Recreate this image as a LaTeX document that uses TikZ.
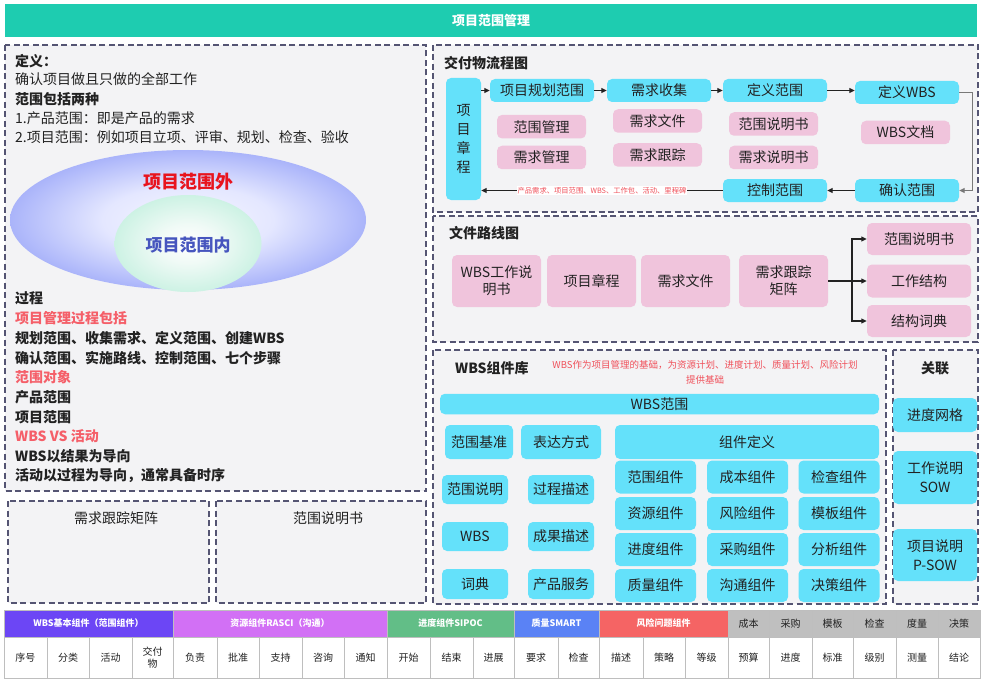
\documentclass[tikz,border=0pt]{standalone}
\usepackage{fontspec}
\setmainfont{Noto Sans CJK SC}
\usetikzlibrary{arrows.meta,calc,shapes.geometric}
\definecolor{titlebg}{RGB}{30,204,176}
\definecolor{cyanc}{RGB}{100,225,250}
\definecolor{pinkc}{RGB}{240,196,220}
\definecolor{panelbg}{RGB}{243,243,245}
\definecolor{panelln}{RGB}{85,85,115}
\definecolor{txt}{RGB}{34,34,34}
\definecolor{outred}{RGB}{232,20,30}
\definecolor{inblue}{RGB}{70,85,190}
\definecolor{salmon}{RGB}{245,95,105}
\definecolor{notered}{RGB}{240,80,90}
\definecolor{ellout}{RGB}{170,180,250}
\definecolor{ellmid}{RGB}{228,231,255}
\definecolor{ellin}{RGB}{246,246,255}
\definecolor{mint}{RGB}{205,242,228}
\definecolor{mintin}{RGB}{240,250,246}
\definecolor{hpurple}{RGB}{108,70,245}
\definecolor{hviolet}{RGB}{210,112,245}
\definecolor{hgreen}{RGB}{98,190,135}
\definecolor{hblue}{RGB}{90,130,245}
\definecolor{hred}{RGB}{245,100,100}
\definecolor{hgray}{RGB}{191,191,191}
\definecolor{cellln}{RGB}{190,190,190}
\definecolor{elbowc}{RGB}{120,120,120}
\pgfdeclareradialshading{outershade}{\pgfpoint{0bp}{0bp}}{color(0bp)=(ellin); color(12bp)=(ellmid); color(25bp)=(ellout); color(50bp)=(ellout)}
\pgfdeclareradialshading{innershade}{\pgfpoint{0bp}{0bp}}{color(0bp)=(white); color(10bp)=(mintin); color(25bp)=(mint); color(50bp)=(mint)}
\begin{document}
\begin{tikzpicture}[x=1pt,y=-1pt,
  panel/.style={draw=panelln, fill=panelbg, line width=1.1pt, dash pattern=on 6pt off 3.5pt},
  box/.style={rounded corners=5pt, inner sep=0pt, align=center, text=txt, font=\fontsize{14}{17}\selectfont},
  cbox/.style={box, fill=cyanc},
  pbox/.style={box, fill=pinkc},
  lt/.style={anchor=west, inner sep=0pt, text=txt, font=\fontsize{14}{17}\selectfont},
  ltb/.style={lt, font=\bfseries\fontsize{14}{17}\selectfont},
  ptitle/.style={anchor=west, inner sep=0pt, text=txt, font=\bfseries\fontsize{14}{17}\selectfont},
  arr/.style={draw=txt, line width=1.1pt, -{Triangle[length=5.5pt,width=5pt]}},
  hcell/.style={draw=cellln, line width=0.8pt, inner sep=0pt, align=center, minimum height=27, text=white, font=\bfseries\fontsize{9}{11}\selectfont},
  dcell/.style={draw=cellln, line width=0.8pt, fill=white, inner sep=0pt, align=center, minimum height=41, text=txt, font=\fontsize{10}{12}\selectfont},
]
\useasboundingbox (0,0) rectangle (988,682);
\fill[white] (0,0) rectangle (988,682);

% title bar
\node[fill=titlebg, minimum width=972, minimum height=33, inner sep=0pt, text=white, font=\bfseries\fontsize{13}{15}\selectfont] (title) at (491,20.5) {项目范围管理};

% ---------- left panel ----------
\draw[panel] (5,45) rectangle (426,491);
\node[ltb] (l1) at (15,61.5) {定义：};
\node[lt] (l2) at (15,79) {确认项目做且只做的全部工作};
\node[ltb] (l3) at (15,99) {范围包括两种};
\node[lt] (l4) at (15,118.5) {1.产品范围：即是产品的需求};
\node[lt] (l5) at (15,137.5) {2.项目范围：例如项目立项、评审、规划、检查、验收};

\node[ellipse, minimum width=356, minimum height=140, inner sep=0pt, shading=outershade] (outer) at (188,220) {};
\node[ellipse, minimum width=147, minimum height=97, inner sep=0pt, shading=innershade] (inner) at (188,243.5) {};
\node[text=outred, font=\bfseries\fontsize{18}{20}\selectfont] (outtxt) at (188,182) {项目范围外};
\node[text=inblue, font=\bfseries\fontsize{17}{19}\selectfont] (intxt) at (188,245) {项目范围内};

\node[ltb] (l6) at (15,298) {过程};
\node[ltb, text=salmon] (l7) at (15,318) {项目管理过程包括};
\node[ltb] (l8) at (15,338) {规划范围、收集需求、定义范围、创建WBS};
\node[ltb] (l9) at (15,358) {确认范围、实施路线、控制范围、七个步骤};
\node[ltb, text=salmon] (l10) at (15,377) {范围对象};
\node[ltb] (l11) at (15,397) {产品范围};
\node[ltb] (l12) at (15,417) {项目范围};
\node[ltb, text=salmon] (l13) at (15,436) {WBS VS 活动};
\node[ltb] (l14) at (15,456) {WBS以结果为导向};
\node[ltb] (l15) at (15,476) {活动以过程为导向，通常具备时序};

% bottom-left boxes
\draw[panel] (8,501) rectangle (209,603);
\draw[panel] (216,501) rectangle (426,603);
\node[text=txt, font=\fontsize{14}{17}\selectfont] (m1) at (116,518) {需求跟踪矩阵};
\node[text=txt, font=\fontsize{14}{17}\selectfont] (m2) at (328,518) {范围说明书};

% ---------- deliverable flow ----------
\draw[panel] (433,45) rectangle (978,212);
\node[ptitle] (ft) at (444,63) {交付物流程图};
\node[cbox, minimum width=35, minimum height=122, font=\fontsize{14}{19}\selectfont] (charter) at (463.5,139) {项\\目\\章\\程};
\node[cbox, minimum width=104, minimum height=23] (plan) at (542,90.5) {项目规划范围};
\node[cbox, minimum width=104, minimum height=23] (collect) at (659,90.5) {需求收集};
\node[cbox, minimum width=104, minimum height=23] (define) at (775,90.5) {定义范围};
\node[cbox, minimum width=104, minimum height=23] (defwbs) at (907,92.5) {定义WBS};
\node[cbox, minimum width=104, minimum height=23] (control) at (775,190.5) {控制范围};
\node[cbox, minimum width=104, minimum height=23] (verify) at (907,190.5) {确认范围};
\node[pbox, minimum width=89, minimum height=23.5] (scopemgmt) at (541.5,126.7) {范围管理};
\node[pbox, minimum width=89, minimum height=23.5] (reqmgmt) at (541.5,157.5) {需求管理};
\node[pbox, minimum width=89, minimum height=23.5] (reqdoc) at (657.5,121) {需求文件};
\node[pbox, minimum width=89, minimum height=23.5] (reqtrack) at (657.5,155) {需求跟踪};
\node[pbox, minimum width=89, minimum height=23.5] (scopestmt) at (773.5,124) {范围说明书};
\node[pbox, minimum width=89, minimum height=23.5] (reqstmt) at (773.5,157.5) {需求说明书};
\node[pbox, minimum width=89, minimum height=23.5] (wbsdoc) at (905.5,132.5) {WBS文档};

\draw[arr] (charter.east |- plan.west) -- (plan.west);
\draw[arr] (plan) -- (collect);
\draw[arr] (collect) -- (define);
\draw[arr] (define.east) -- (define.east -| defwbs.west);
\draw[arr, draw=elbowc] (defwbs.east) -- ++(13,0) |- (verify.east);
\draw[arr] (verify) -- (control);
\draw[arr] (control.west) -- (control.west -| charter.east)
  node[midway, fill=white, inner sep=1pt, text=notered, font=\fontsize{7.3}{8}\selectfont] (flowlbl) {产品需求、项目范围、WBS、工作包、活动、里程碑};

% ---------- file route ----------
\draw[panel] (433,216) rectangle (978,342);
\node[ptitle] (rt) at (449,233.5) {文件路线图};
\node[pbox, minimum width=89, minimum height=52] (f1) at (496.5,281) {WBS工作说\\明书};
\node[pbox, minimum width=89, minimum height=52] (f2) at (591.5,281) {项目章程};
\node[pbox, minimum width=89, minimum height=52] (f3) at (685.5,281) {需求文件};
\node[pbox, minimum width=89, minimum height=52] (f4) at (783.5,281) {需求跟踪\\矩阵};
\node[pbox, minimum width=104, minimum height=32] (r1) at (919,239) {范围说明书};
\node[pbox, minimum width=104, minimum height=33] (r2) at (919,281) {工作结构};
\node[pbox, minimum width=104, minimum height=32] (r3) at (919,321) {结构词典};
\coordinate (j) at (852,281);
\draw[draw=txt, line width=1.1pt] (f4.east) -- (j);
\draw[arr] (j) |- (r1.west);
\draw[arr] (j) -- (r2.west);
\draw[arr] (j) |- (r3.west);

% ---------- WBS component library ----------
\draw[panel] (433,350) rectangle (886,604);
\draw[panel] (893,350) rectangle (978,604);
\node[ptitle] (wt) at (455,368) {WBS组件库};
\node[text=notered, align=center, font=\fontsize{9.5}{15}\selectfont] (note) at (705,372) {WBS作为项目管理的基础，为资源计划、进度计划、质量计划、风险计划\\提供基础};
\node[cbox, minimum width=439, minimum height=20.5] (wbsscope) at (659.5,404) {WBS范围};
\node[cbox, minimum width=68, minimum height=34] (base) at (479,442) {范围基准};
\node[cbox, minimum width=80, minimum height=34] (expr) at (561,442) {表达方式};
\node[cbox, minimum width=264, minimum height=34] (compdef) at (747,442) {组件定义};
\node[cbox, minimum width=66, minimum height=29] (sdesc) at (475,489.5) {范围说明};
\node[cbox, minimum width=66, minimum height=29] (pdesc) at (561,489.5) {过程描述};
\node[cbox, minimum width=66, minimum height=29] (wbsn) at (475,536.5) {WBS};
\node[cbox, minimum width=66, minimum height=29] (rdesc) at (561,536.5) {成果描述};
\node[cbox, minimum width=66, minimum height=30] (dict) at (475,584) {词典};
\node[cbox, minimum width=66, minimum height=30] (prod) at (561,584) {产品服务};

\foreach \cx/\cy/\t [count=\i] in {
  655.5/477/范围组件, 747.5/477/成本组件, 839/477/检查组件,
  655.5/513.5/资源组件, 747.5/513.5/风险组件, 839/513.5/模板组件,
  655.5/549.5/进度组件, 747.5/549.5/采购组件, 839/549.5/分析组件,
  655.5/585.5/质量组件, 747.5/585.5/沟通组件, 839/585.5/决策组件}
  \node[cbox, minimum width=81, minimum height=33] (c\i) at (\cx,\cy) {\t};

% relation panel
\node[text=txt, font=\bfseries\fontsize{14}{17}\selectfont] (gt) at (935,368) {关联};
\node[cbox, minimum width=84, minimum height=34, font=\fontsize{14}{19}\selectfont] (g1) at (935,415) {进度网格};
\node[cbox, minimum width=84, minimum height=53, font=\fontsize{14}{19}\selectfont] (g2) at (935,477.5) {工作说明\\SOW};
\node[cbox, minimum width=84, minimum height=52, font=\fontsize{14}{19}\selectfont] (g3) at (935,555) {项目说明\\P-SOW};

% ---------- bottom table ----------
\foreach \a/\b/\c/\t [count=\i] in {
  4/173/hpurple/{WBS基本组件（范围组件）},
  173/387/hviolet/{资源组件RASCI（沟通）},
  387/514/hgreen/{进度组件SIPOC},
  514/599/hblue/{质量SMART},
  599/728/hred/{风险问题组件}}
  \node[hcell, fill=\c, minimum width={\b-\a}] (h\i) at ({(\a+\b)/2},623.5) {\t};
\foreach \a/\b/\t [count=\i] in {
  728/769/成本, 769/812/采购, 812/853/模板, 853/896/检查, 896/938/度量, 938/980/决策}
  \node[hcell, fill=hgray, text=txt, font=\fontsize{10}{12}\selectfont, minimum width={\b-\a}] (g\i h) at ({(\a+\b)/2},623.5) {\t};
\foreach \a/\b/\t [count=\i] in {
  4/47/序号, 47/89/分类, 89/132/活动, 132/173/{交付\\物}, 173/217/负责, 217/259/批准,
  259/302/支持, 302/344/咨询, 344/387/通知, 387/430/开始, 430/473/结束, 473/514/进展,
  514/558/要求, 558/599/检查, 599/643/描述, 643/685/策略, 685/728/等级, 728/769/预算,
  769/812/进度, 812/853/标准, 853/896/级别, 896/938/测量, 938/980/结论}
  \node[dcell, minimum width={\b-\a}] (d\i) at ({(\a+\b)/2},657.5) {\t};
\end{tikzpicture}
\end{document}
